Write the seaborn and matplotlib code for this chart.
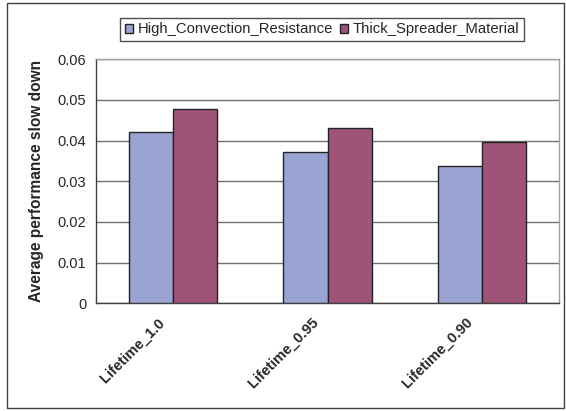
import pandas as pd
import matplotlib
matplotlib.use('Agg')
import matplotlib.pyplot as plt
import matplotlib.transforms as mtransforms
import seaborn as sns
from matplotlib.patches import Rectangle

# Data
categories = ['Lifetime_1.0', 'Lifetime_0.95', 'Lifetime_0.90']
series_names = ['High_Convection_Resistance', 'Thick_Spreader_Material']
high_convection = [0.0422, 0.0372, 0.0338]
thick_spreader = [0.0477, 0.0431, 0.0396]
y_ticks = [0, 0.01, 0.02, 0.03, 0.04, 0.05, 0.06]
y_tick_labels = ['0', '0.01', '0.02', '0.03', '0.04', '0.05', '0.06']

sns.set_style('white')
plt.rcParams['font.family'] = ['Liberation Sans', 'DejaVu Sans']

df = pd.DataFrame({
    'Lifetime': categories * 2,
    'Series': [series_names[0]] * 3 + [series_names[1]] * 3,
    'Slowdown': high_convection + thick_spreader,
})

fig = plt.figure(figsize=(5.66, 4.11), dpi=100)
ax = fig.add_axes([96 / 566, 1 - 303.3 / 411, (559 - 96) / 566, (303.3 - 59.3) / 411])

palette = {series_names[0]: '#9aa4d3', series_names[1]: '#a05378'}
sns.barplot(data=df, x='Lifetime', y='Slowdown', hue='Series', palette=palette,
            width=0.572, gap=0, edgecolor='#222222', linewidth=1.0,
            saturation=1, ax=ax, legend=False, zorder=3)

ax.set_xlim(-0.5, 2.5)
ax.set_ylim(0, 0.06)
ax.set_yticks(y_ticks)
ax.set_yticklabels(y_tick_labels, fontsize=10.5)
ax.yaxis.grid(True, color='#707070', linewidth=1.0, zorder=0)
ax.set_axisbelow(True)

# category labels drawn as rotated text, tick marks at category boundaries
ax.set_xticks([])
ax.set_xticks([-0.5, 0.5, 1.5, 2.5], minor=True)
ax.tick_params(axis='x', which='minor', length=4, width=1, color='#404040', direction='out')
ax.tick_params(axis='y', length=4, width=1, color='#404040', direction='out', pad=3)
label_trans = ax.get_xaxis_transform() + mtransforms.ScaledTranslation(-16 / 100, -12 / 100, fig.dpi_scale_trans)
for i, cat in enumerate(categories):
    ax.text(i, 0, cat, transform=label_trans, rotation=45, rotation_mode='anchor',
            ha='right', va='top', fontsize=10.5, fontweight='bold')

ax.set_xlabel('')
ax.set_ylabel('Average performance slow down', fontsize=11.2, fontweight='bold', labelpad=10)

for side in ['left', 'bottom']:
    ax.spines[side].set_color('#404040')
    ax.spines[side].set_linewidth(1.0)
for side in ['top', 'right']:
    ax.spines[side].set_color('#a0a0a0')
    ax.spines[side].set_linewidth(1.0)

# legend above the plot
handles = [Rectangle((0, 0), 1, 1, facecolor=palette[s], edgecolor='#222222', linewidth=1.0)
           for s in series_names]
leg = fig.legend(handles, series_names, loc='center', bbox_to_anchor=(322 / 566, 1 - 29.5 / 411),
                 ncol=2, fontsize=10.7, frameon=True, fancybox=False, handlelength=0.55,
                 handleheight=0.55, handletextpad=0.3, columnspacing=0.5, borderpad=0.3)
leg.get_frame().set_edgecolor('#222222')
leg.get_frame().set_linewidth(1.0)

# outer chart frame
fig.patches.append(Rectangle((7 / 566, 3 / 411), 557 / 566, 405 / 411, transform=fig.transFigure,
                             fill=False, edgecolor='#404040', linewidth=1.0))

fig.savefig('out.png', dpi=100)
